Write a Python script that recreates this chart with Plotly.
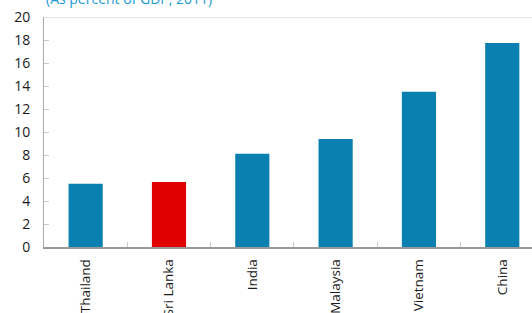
import plotly.graph_objects as go

countries = ["Thailand", "Sri Lanka", "India", "Malaysia", "Vietnam", "China"]
values = [5.5, 5.65, 8.1, 9.4, 13.5, 17.75]
bar_colors = ["#0a80b0", "#e00000", "#0a80b0", "#0a80b0", "#0a80b0", "#0a80b0"]
y_ticks = [0, 2, 4, 6, 8, 10, 12, 14, 16, 18, 20]

fig = go.Figure(go.Bar(x=countries, y=values, marker_color=bar_colors,
                       marker_line_width=0, width=0.41))

fig.update_layout(
    width=532, height=313,
    margin=dict(l=44, r=0, t=17, b=66, autoexpand=False),
    paper_bgcolor="white", plot_bgcolor="white",
    font=dict(family="Open Sans", size=13, color="#222222"),
    showlegend=False,
)
fig.update_xaxes(
    type="category", range=[-0.5, 5.357], automargin=False,
    showline=True, linecolor="#999999", linewidth=1.5,
    ticks="inside", tickson="boundaries", ticklen=5, tickcolor="#cccccc",
    tickangle=-90, tickfont=dict(size=13.5, color="#1a1a1a"),
    ticklabelstandoff=5,
    showgrid=False,
)
fig.update_yaxes(
    range=[0, 20], tickvals=y_ticks, automargin=False,
    showline=True, linecolor="#aaaaaa", linewidth=1,
    ticks="inside", ticklen=5, tickcolor="#cccccc",
    tickfont=dict(size=14, color="#1a1a1a"),
    ticklabelstandoff=10,
    showgrid=False, zeroline=False,
)
fig.add_shape(type="line", xref="paper", yref="y", x0=0, x1=1, y0=20, y1=20,
              line=dict(color="#cccccc", width=1))
fig.add_annotation(text="(As percent of GDP, 2011)", xref="paper", yref="paper",
                   x=0, y=1.032, xanchor="left", yanchor="bottom", showarrow=False,
                   font=dict(size=14, color="#1a9ad6"))

fig.write_html("out.html", config={"displayModeBar": False},
               post_script="document.body.style.margin='0';document.body.style.overflow='hidden';")
